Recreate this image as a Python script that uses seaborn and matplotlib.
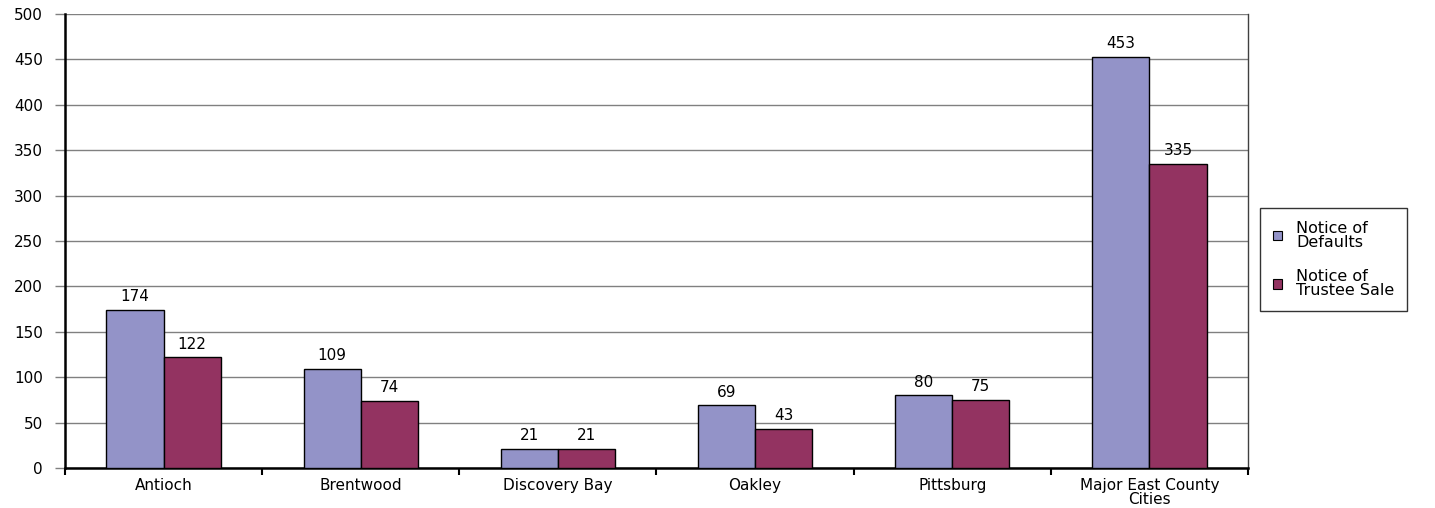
import matplotlib
matplotlib.use("Agg")
import matplotlib.pyplot as plt
import seaborn as sns
import pandas as pd
import numpy as np

cities = ["Antioch", "Brentwood", "Discovery Bay", "Oakley", "Pittsburg", "Major East County\nCities"]
defaults = [174, 109, 21, 69, 80, 453]
trustee_sale = [122, 74, 21, 43, 75, 335]
series_names = ["Notice of\nDefaults", "Notice of\nTrustee Sale"]
y_ticks = [0, 50, 100, 150, 200, 250, 300, 350, 400, 450, 500]

df = pd.DataFrame({
    "city": cities * 2,
    "count": defaults + trustee_sale,
    "series": [series_names[0]] * len(cities) + [series_names[1]] * len(cities),
})

sns.set_theme(style="white")
plt.rcParams["font.family"] = ["DejaVu Sans"]
plt.rcParams["text.color"] = "black"
FS = 11

fig = plt.figure(figsize=(14.35, 5.08), dpi=100)
ax = fig.add_axes([65 / 1435, 40 / 508, (1248 - 65) / 1435, (468 - 14) / 508])

palette = ["#9393C8", "#933361"]
sns.barplot(data=df, x="city", y="count", hue="series", order=cities,
            hue_order=series_names, palette=palette, width=0.58,
            edgecolor="black", linewidth=1, saturation=1, ax=ax, zorder=3)

for cont in ax.containers:
    ax.bar_label(cont, fmt="%d", padding=4, fontsize=FS, color="black")

ax.set_ylim(0, 500)
ax.set_xlim(-0.5, len(cities) - 0.5)
ax.set_yticks(y_ticks)
ax.yaxis.grid(True, color="#808080", linewidth=1, zorder=0)
ax.set_axisbelow(True)
ax.set_xlabel("")
ax.set_ylabel("")

# category boundary tick marks on the x axis
ax.set_xticks(np.arange(-0.5, len(cities) - 0.4, 1.0), minor=True)
ax.tick_params(axis="x", which="major", length=0, labelsize=FS, pad=7, labelcolor="black")
ax.tick_params(axis="x", which="minor", length=5, width=1.5, color="black", bottom=True)
ax.tick_params(axis="y", which="major", length=7, width=1, color="#808080", left=True,
               labelsize=FS, pad=9, labelcolor="black")
for lbl in ax.get_xticklabels():
    lbl.set_linespacing(0.9)

for side in ["left", "bottom"]:
    ax.spines[side].set_color("black")
    ax.spines[side].set_linewidth(1.8)
ax.spines["top"].set_visible(False)
ax.spines["right"].set_color("#404040")
ax.spines["right"].set_linewidth(1)

handles, labels = ax.get_legend_handles_labels()
ax.legend_.remove()
leg = fig.legend(handles, labels, loc="center left",
                 bbox_to_anchor=(1260 / 1435, 1 - 259.5 / 508),
                 frameon=True, fancybox=False, edgecolor="black",
                 fontsize=11.5, handlelength=0.55, handleheight=0.55,
                 handletextpad=0.9, labelspacing=1.2, borderpad=0.8,
                 borderaxespad=0)
leg.get_frame().set_linewidth(1)
for t in leg.get_texts():
    t.set_linespacing(0.95)
for h in leg.legend_handles:
    h.set_edgecolor("black")
    h.set_linewidth(0.8)

fig.savefig("out.png", dpi=100)
